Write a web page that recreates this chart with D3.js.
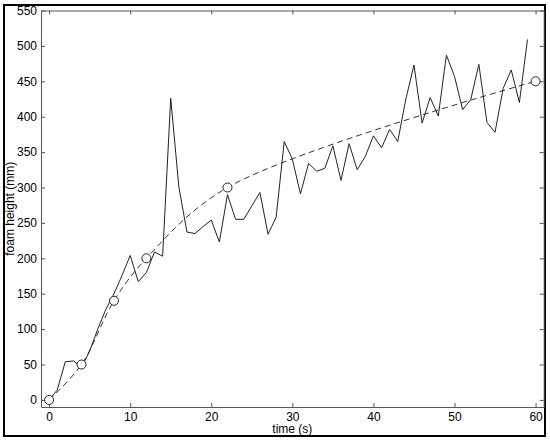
<!DOCTYPE html>
<html>
<head>
<meta charset="utf-8">
<script src="https://cdn.jsdelivr.net/npm/d3@7"></script>
<style>
  body { margin: 0; background: #fff; }
  svg { font-family: "Liberation Sans", Arial, sans-serif; }
  .axis path, .axis line { stroke: #555; }
  .axis text { fill: #000; font-size: 12px; }
</style>
</head>
<body>
<div id="chart"></div>
<script>
// measured foam height, one value per second
var times   = d3.range(0, 60);
var heights = [  0,  14,  54,  55,  46,  69, 100, 128, 150, 176,
               204, 167, 180, 209, 203, 426, 301, 237, 235, 245,
               254, 223, 290, 255, 255, 274, 293, 234, 258, 365,
               340, 291, 334, 323, 327, 359, 310, 362, 325, 344,
               373, 356, 382, 365, 425, 473, 391, 427, 401, 487,
               457, 410, 424, 474, 392, 378, 440, 466, 420, 509];

// model points (circles) joined by the dashed curve
var modelT = [0, 4, 8, 12, 22, 60];
var modelH = [0, 50, 140, 200, 300, 450];

var xTicks = [0, 10, 20, 30, 40, 50, 60];
var yTicks = [0, 50, 100, 150, 200, 250, 300, 350, 400, 450, 500, 550];

var W = 550, H = 443;

var svg = d3.select('#chart')
            .append('svg')
            .attr('width', W)
            .attr('height', H);

// outer frame
svg.append('rect')
   .attr('x', 4).attr('y', 5)
   .attr('width', 541).attr('height', 431)
   .attr('fill', 'none')
   .attr('stroke', '#000')
   .attr('stroke-width', 2);

var xScale = d3.scaleLinear().domain([-1, 61]).range([41, 543.7]);
var yScale = d3.scaleLinear().domain([-10, 550]).range([407, 10.5]);

var x0 = xScale.range()[0], x1 = xScale.range()[1];
var y0 = yScale.range()[0], y1 = yScale.range()[1];

// axes, ticks pointing inwards on all four sides
svg.append('g')
   .attr('class', 'axis')
   .attr('transform', 'translate(0,' + y0 + ')')
   .call(d3.axisBottom(xScale).tickValues(xTicks).tickSizeInner(-4).tickSizeOuter(0).tickPadding(5));

svg.append('g')
   .attr('class', 'axis')
   .attr('transform', 'translate(0,' + y1 + ')')
   .call(d3.axisTop(xScale).tickValues(xTicks).tickSizeInner(-4).tickSizeOuter(0).tickFormat(''));

svg.append('g')
   .attr('class', 'axis')
   .attr('transform', 'translate(' + x0 + ',0)')
   .call(d3.axisLeft(yScale).tickValues(yTicks).tickSizeInner(-4).tickSizeOuter(0).tickPadding(4));

svg.append('g')
   .attr('class', 'axis')
   .attr('transform', 'translate(' + x1 + ',0)')
   .call(d3.axisRight(yScale).tickValues(yTicks).tickSizeInner(-4).tickSizeOuter(0).tickFormat(''));

// dashed model curve
var modelData = modelT.map(function(t, i) { return { t: t, h: modelH[i] }; });

var dashLine = d3.line()
                 .x(function(d) { return xScale(d.t); })
                 .y(function(d) { return yScale(d.h); })
                 .curve(d3.curveCatmullRom.alpha(0.5));

svg.append('path')
   .datum(modelData)
   .attr('d', dashLine)
   .attr('fill', 'none')
   .attr('stroke', '#333')
   .attr('stroke-width', 1)
   .attr('stroke-dasharray', '6,4');

// measured line
var measData = times.map(function(t, i) { return { t: t, h: heights[i] }; });

var solidLine = d3.line()
                  .x(function(d) { return xScale(d.t); })
                  .y(function(d) { return yScale(d.h); });

svg.append('path')
   .datum(measData)
   .attr('d', solidLine)
   .attr('fill', 'none')
   .attr('stroke', '#222')
   .attr('stroke-width', 1);

svg.selectAll('.marker')
   .data(modelData)
   .enter()
   .append('circle')
   .attr('class', 'marker')
   .attr('cx', function(d) { return xScale(d.t); })
   .attr('cy', function(d) { return yScale(d.h); })
   .attr('r', 4.5)
   .attr('fill', '#fff')
   .attr('stroke', '#222')
   .attr('stroke-width', 1);

// axis titles
svg.append('text')
   .attr('x', (x0 + x1) / 2)
   .attr('y', 433)
   .attr('text-anchor', 'middle')
   .style('font-size', '12px')
   .text('time (s)');

svg.append('text')
   .attr('transform', 'translate(14,' + ((y0 + y1) / 2) + ') rotate(-90)')
   .attr('text-anchor', 'middle')
   .style('font-size', '12px')
   .text('foam height (mm)');
</script>
</body>
</html>
